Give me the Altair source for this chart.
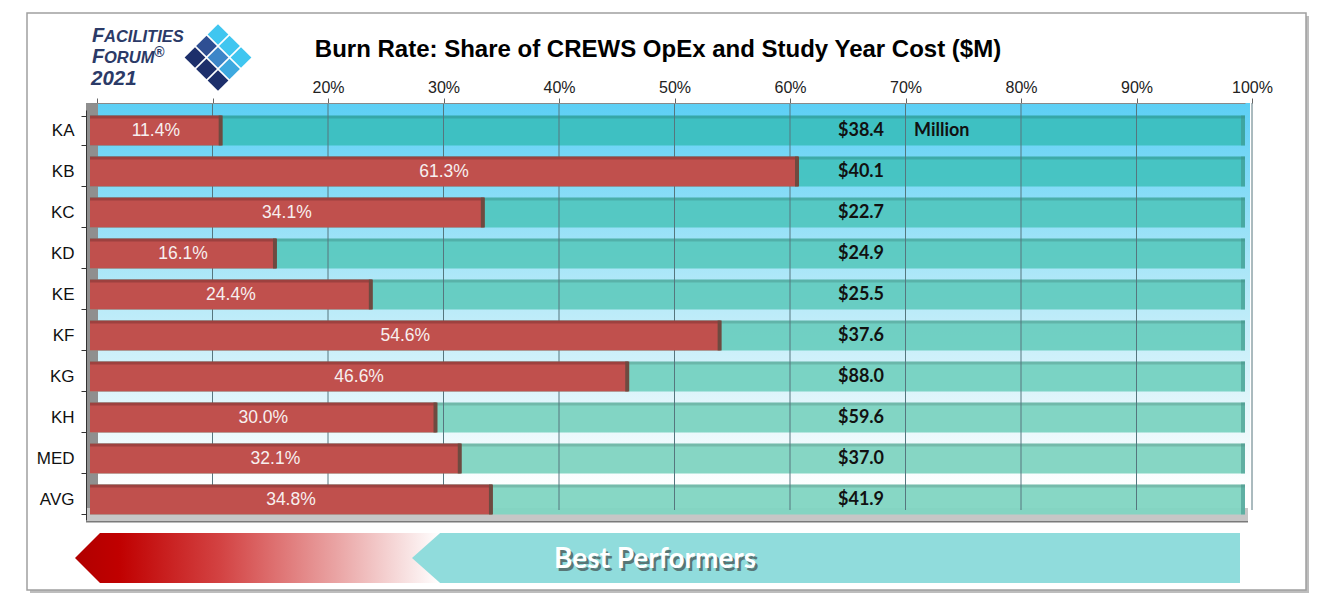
import altair as alt
import pandas as pd

# ---------------- data ----------------
cats = ["KA", "KB", "KC", "KD", "KE", "KF", "KG", "KH", "MED", "AVG"]
burn = [11.4, 61.3, 34.1, 16.1, 24.4, 54.6, 46.6, 30.0, 32.1, 34.8]
cost = [38.4, 40.1, 22.7, 24.9, 25.5, 37.6, 88.0, 59.6, 37.0, 41.9]
tick_vals = [0.0, 0.1, 0.2, 0.3, 0.4, 0.5, 0.6, 0.7, 0.8, 0.9, 1.0]
grid_vals = [0.1, 0.2, 0.3, 0.4, 0.5, 0.6, 0.7, 0.8, 0.9, 1.0]
title_text = "Burn Rate: Share of CREWS OpEx and Study Year Cost ($M)"
unit_text = "Million"
banner_text = "Best Performers"

# ---------------- styles ----------------
teal = ["#3cbfbf", "#45c3c0", "#52c6c0", "#5bc9c0", "#63cbc0",
        "#6ccec0", "#75d1c1", "#7cd3c1", "#80d4c1", "#81d5c2"]
RED = "#c0504d"
W, H = 1155, 410
FONT = "Liberation Sans"

df = pd.DataFrame({
    "cat": cats,
    "burn": [b / 100 for b in burn],
    "cost": cost,
    "one": [1.0] * len(cats),
})
df["mid"] = df["burn"] / 2
df["costlabel"] = ["$%.1f" % c for c in cost]
df["pctlabel"] = ["%.1f%%" % b for b in burn]

one = pd.DataFrame({"a": [0]})
xscale = alt.Scale(domain=[0, 1], nice=False, zero=True)
yscale = alt.Scale(domain=cats, paddingInner=0.27, paddingOuter=0.135)

XAX = alt.Axis(
    orient="top", values=tick_vals, format=".0%",
    labelExpr="datum.value < 0.15 ? '' : datum.label",
    offset=7, tickOffset=7, grid=False, title=None, labelFlush=False,
    domainColor="#8a8a8a", tickColor="#666666", tickSize=5,
    labelFont=FONT, labelFontSize=16, labelColor="#222222",
    labelPadding=3, zindex=1)
YAX = alt.Axis(
    orient="left", offset=4, tickBand="extent", title=None,
    domainColor="#333333", tickColor="#333333", tickSize=5,
    labelFont=FONT, labelFontSize=17, labelColor="#111111",
    labelPadding=7, zindex=1)


def X(field):
    return alt.X(field, scale=xscale, axis=XAX)


Y = alt.Y("cat:N", scale=yscale, sort=cats, axis=YAX)


def box(x, x2, y, y2, **kw):
    return alt.Chart(one).mark_rect(**kw).encode(
        x=alt.value(x), x2=alt.value(x2), y=alt.value(y), y2=alt.value(y2))


def txt(text, x, y, **kw):
    return alt.Chart(one).mark_text(text=text, **kw).encode(
        x=alt.value(x), y=alt.value(y))


layers = []

# frame with shadow
layers.append(box(-60, 1219, -94, 483, color="#bdbdbd"))
layers.append(box(-63, 1216, -97, 480, fill="white", stroke="#a0a0a0", strokeWidth=1.5))

# back wall (gradient), left wall, floor
wall_grad = alt.Gradient(gradient="linear", x1=0, x2=0, y1=0, y2=1,
                         stops=[alt.GradientStop(color="#5ccff5", offset=0),
                                alt.GradientStop(color="#a9e6f8", offset=0.4),
                                alt.GradientStop(color="#e3f6fb", offset=0.75),
                                alt.GradientStop(color="#ffffff", offset=0.95)])
layers.append(box(8, 1160, -7, 400, color=wall_grad))
layers.append(box(-4, 8, -7, 412, color="#8f8f8f"))
layers.append(box(-4, 1158, 398, 412, color="#c6c6c6"))
layers.append(box(-4, 1158, 411, 412.5, color="#7a7a7a"))

# teal full bars
layers.append(alt.Chart(df).mark_bar(opacity=0.95).encode(
    x=X("one:Q"), y=Y,
    color=alt.Color("cat:N", scale=alt.Scale(domain=cats, range=teal), legend=None),
))
# teal top face and end cap
layers.append(alt.Chart(df).mark_bar(size=3, yOffset=-13.5, color="#000000", opacity=0.13).encode(
    x=X("one:Q"), y=Y))
layers.append(alt.Chart(df).mark_bar(color="#3e8f86", opacity=0.55, xOffset=-4).encode(
    x=X("one:Q"), x2="one:Q", y=Y))

# gridlines (behind the red bars, over teal)
layers.append(alt.Chart(pd.DataFrame({"t": grid_vals})).mark_rule(
    color="#56767e", strokeWidth=1, xOffset=7).encode(
    x=X("t:Q"), y=alt.value(-7), y2=alt.value(400)))

# red bars
layers.append(alt.Chart(df).mark_bar(color=RED).encode(x=X("burn:Q"), y=Y))
layers.append(alt.Chart(df).mark_bar(size=3, yOffset=-13.5, color="#000000", opacity=0.18).encode(
    x=X("burn:Q"), y=Y))
layers.append(alt.Chart(df).mark_bar(color="#6e4a40", xOffset=-3, x2Offset=1).encode(
    x=X("burn:Q"), x2="burn:Q", y=Y))

# labels
layers.append(alt.Chart(df).mark_text(font=FONT, fontSize=17.5, color="#f7efef").encode(
    x=X("mid:Q"), y=Y, text="pctlabel:N"))
layers.append(alt.Chart(df).mark_text(align="left", font="Lato", fontWeight="bold",
                                      fontSize=18, color="#111111").encode(
    x=alt.value(748), y=Y, text="costlabel:N"))
layers.append(alt.Chart(pd.DataFrame({"cat": ["KA"], "u": [unit_text]})).mark_text(
    align="left", font="Lato", fontWeight="bold", fontSize=18, color="#111111").encode(
    x=alt.value(824), y=Y, text="u:N"))

# title
layers.append(txt(title_text, 568, -60, font=FONT, fontSize=24, fontWeight="bold",
                  color="#000000", align="center", baseline="middle"))

# logo text
logo_kw = dict(font=FONT, fontStyle="italic", fontWeight="bold", color="#2b3a67",
               align="left", baseline="alphabetic")
layers.append(txt("F", 2, -68, fontSize=20, **logo_kw))
layers.append(txt("ACILITIES", 14, -68, fontSize=16.5, **logo_kw))
layers.append(txt("F", 2, -47, fontSize=20, **logo_kw))
layers.append(txt("ORUM", 14, -47, fontSize=16.5, **logo_kw))
layers.append(txt("®", 64, -53, fontSize=14, **logo_kw))
layers.append(txt("2021", 1, -25, fontSize=20.5, **logo_kw))

# logo tiles (3x3 diamond)
tile_cols = [["#40c6f0", "#40c6f0", "#40c6f0"],
             ["#2f4f93", "#3d86c8", "#3ea9df"],
             ["#1d2f6b", "#1d2f6b", "#1d2f6b"]]
cx, cy, st = 128, -52.5, 11.5
for i in range(3):
    for j in range(3):
        layers.append(alt.Chart(one).mark_point(
            shape="square", size=215, angle=45, filled=True, opacity=1,
            color=tile_cols[i][j]).encode(
            x=alt.value(cx + (j - i) * st), y=alt.value(cy + (i + j - 2) * st)))

# bottom banners
red_grad = alt.Gradient(gradient="linear", x1=0, x2=1, y1=0, y2=0,
                        stops=[alt.GradientStop(color="#b00000", offset=0),
                               alt.GradientStop(color="#c00000", offset=0.12),
                               alt.GradientStop(color="#d34343", offset=0.4),
                               alt.GradientStop(color="#eaa5a5", offset=0.72),
                               alt.GradientStop(color="#ffffff", offset=1)])
red_path = "M -1 0 L -0.863 -0.137 L 1 -0.137 L 1 0.137 L -0.863 0.137 Z"
layers.append(alt.Chart(one).mark_point(shape=red_path, size=365 ** 2, filled=True,
                                        opacity=1, color=red_grad).encode(
    x=alt.value(167.5), y=alt.value(448)))
teal_path = "M -1 0 L -0.932 -0.0604 L 1 -0.0604 L 1 0.0604 L -0.932 0.0604 Z"
layers.append(alt.Chart(one).mark_point(shape=teal_path, size=828 ** 2, filled=True,
                                        opacity=1, color="#90dcdc").encode(
    x=alt.value(736), y=alt.value(448)))
layers.append(txt(banner_text, 567.5, 452.5, font="Lato", fontWeight="bold", fontSize=28,
                  color="#333333", opacity=0.6, align="center", baseline="middle"))
layers.append(txt(banner_text, 565, 450, font="Lato", fontWeight="bold", fontSize=28,
                  color="#ffffff", align="center", baseline="middle"))

chart = alt.layer(*layers).properties(
    width=W, height=H,
    padding={"left": 82, "top": 102, "right": 66, "bottom": 76},
    autosize=alt.AutoSizeParams(type="none"),
).configure_view(stroke=None)

chart.save("out.html", embed_options={"renderer": "svg", "actions": False})
